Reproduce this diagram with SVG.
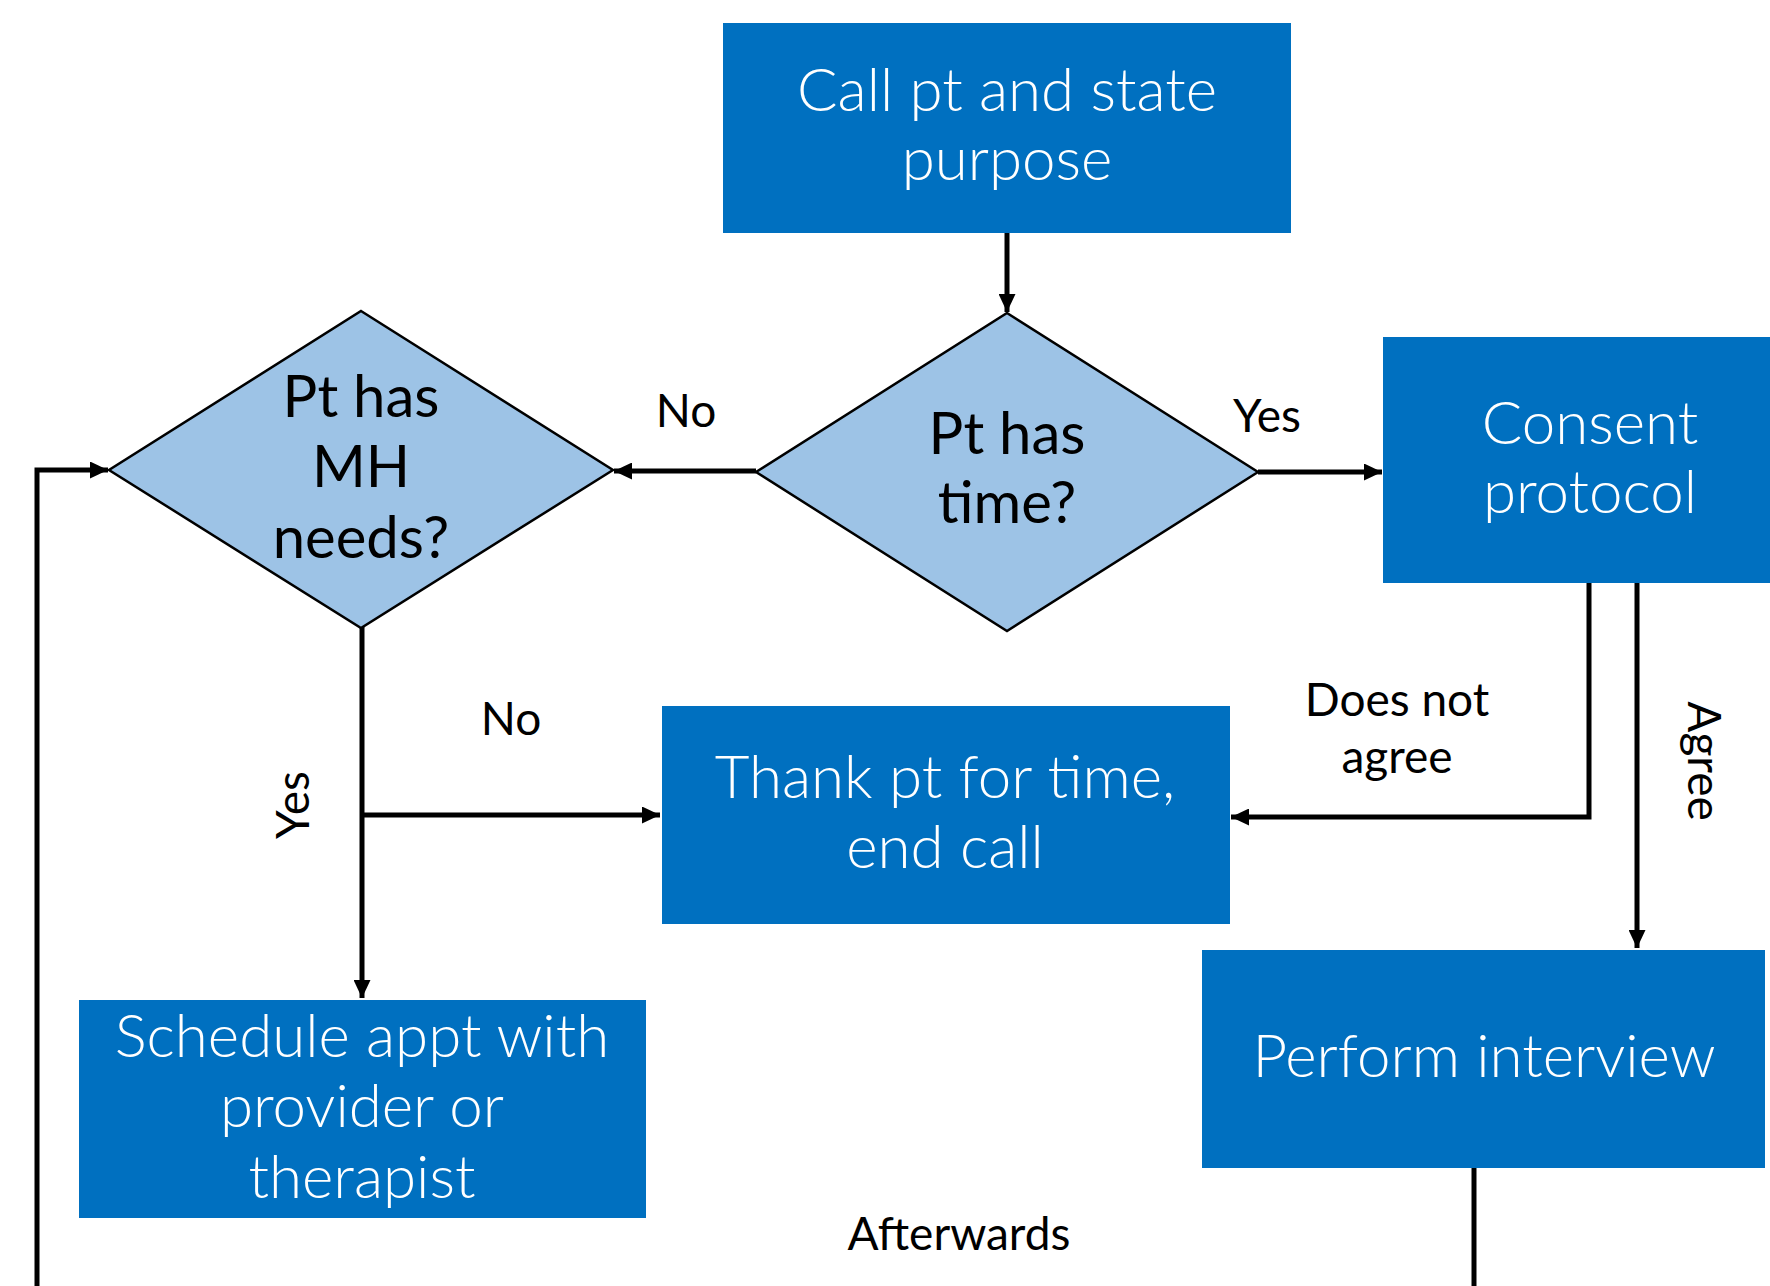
<svg xmlns="http://www.w3.org/2000/svg" width="1770" height="1286" viewBox="0 0 1770 1286">
<style>
.box{fill:#0070C0;}
.dia{fill:#9DC3E6;stroke:#000;stroke-width:2.5;stroke-linejoin:miter;}
.wt{fill:#fff;font-family:Lato,"Open Sans","Liberation Sans",sans-serif;font-weight:300;font-size:60px;text-anchor:middle;}
.dt{fill:#000;font-family:Lato,"Open Sans","Liberation Sans",sans-serif;font-weight:400;font-size:58px;text-anchor:middle;}
.lb{fill:#000;font-family:Lato,"Open Sans","Liberation Sans",sans-serif;font-weight:400;font-size:46px;text-anchor:middle;}
.cn{fill:none;stroke:#000;stroke-width:5;marker-end:url(#ah);}
.ln{fill:none;stroke:#000;stroke-width:5;}
</style>
<defs>
<marker id="ah" markerUnits="userSpaceOnUse" markerWidth="19" markerHeight="17" refX="18" refY="8.5" orient="auto" viewBox="0 0 19 17">
<path d="M0,0 L18,8.5 L0,17 z" fill="#000"/>
</marker>
</defs>
<rect width="1770" height="1286" fill="#fff"/>
<g id="connectors">
<path class="cn" d="M1007,233 L1007,312"/>
<path class="cn" d="M756,471 L614,471"/>
<path class="cn" d="M1258,472 L1382,472"/>
<path class="cn" d="M362,627 L362,998"/>
<path class="cn" d="M362,815 L660,815"/>
<path class="cn" d="M1589,583 L1589,817 L1231,817"/>
<path class="cn" d="M1637,583 L1637,948"/>
<path class="cn" d="M37,1290 L37,470 L108,470"/>
<path class="ln" d="M1474,1168 L1474,1290"/>
</g>
<g id="labels">
<text class="lb" x="686" y="427">No</text>
<text class="lb" x="1267" y="432">Yes</text>
<text class="lb" x="511" y="735">No</text>
<text class="lb" transform="translate(309,805) rotate(-90)">Yes</text>
<text class="lb" x="1397" y="716">Does not</text>
<text class="lb" x="1397" y="773">agree</text>
<text class="lb" transform="translate(1688,761) rotate(90)">Agree</text>
<text class="lb" x="959" y="1250">Afterwards</text>
</g>
<g id="n-call">
<rect class="box" x="723" y="23" width="568" height="210"/>
<text class="wt" x="1007" y="111">Call pt and state</text>
<text class="wt" x="1007" y="180">purpose</text>
</g>
<g id="n-time">
<polygon class="dia" points="1007,313 1258,472 1007,631 756,472"/>
<text class="dt" x="1007" y="454">Pt has</text>
<text class="dt" x="1007" y="523">time?</text>
</g>
<g id="n-mh">
<polygon class="dia" points="361,311 613,470 361,628 109,470"/>
<text class="dt" x="361" y="417">Pt has</text>
<text class="dt" x="361" y="487">MH</text>
<text class="dt" x="361" y="558">needs?</text>
</g>
<g id="n-consent">
<rect class="box" x="1383" y="337" width="420" height="246"/>
<text class="wt" x="1590" y="444">Consent</text>
<text class="wt" x="1590" y="513">protocol</text>
</g>
<g id="n-thank">
<rect class="box" x="662" y="706" width="568" height="218"/>
<text class="wt" x="945" y="798">Thank pt for time,</text>
<text class="wt" x="945" y="868">end call</text>
</g>
<g id="n-schedule">
<rect class="box" x="79" y="1000" width="567" height="218"/>
<text class="wt" x="362" y="1057">Schedule appt with</text>
<text class="wt" x="362" y="1127">provider or</text>
<text class="wt" x="362" y="1198">therapist</text>
</g>
<g id="n-interview">
<rect class="box" x="1202" y="950" width="563" height="218"/>
<text class="wt" x="1484" y="1077">Perform interview</text>
</g>
</svg>
